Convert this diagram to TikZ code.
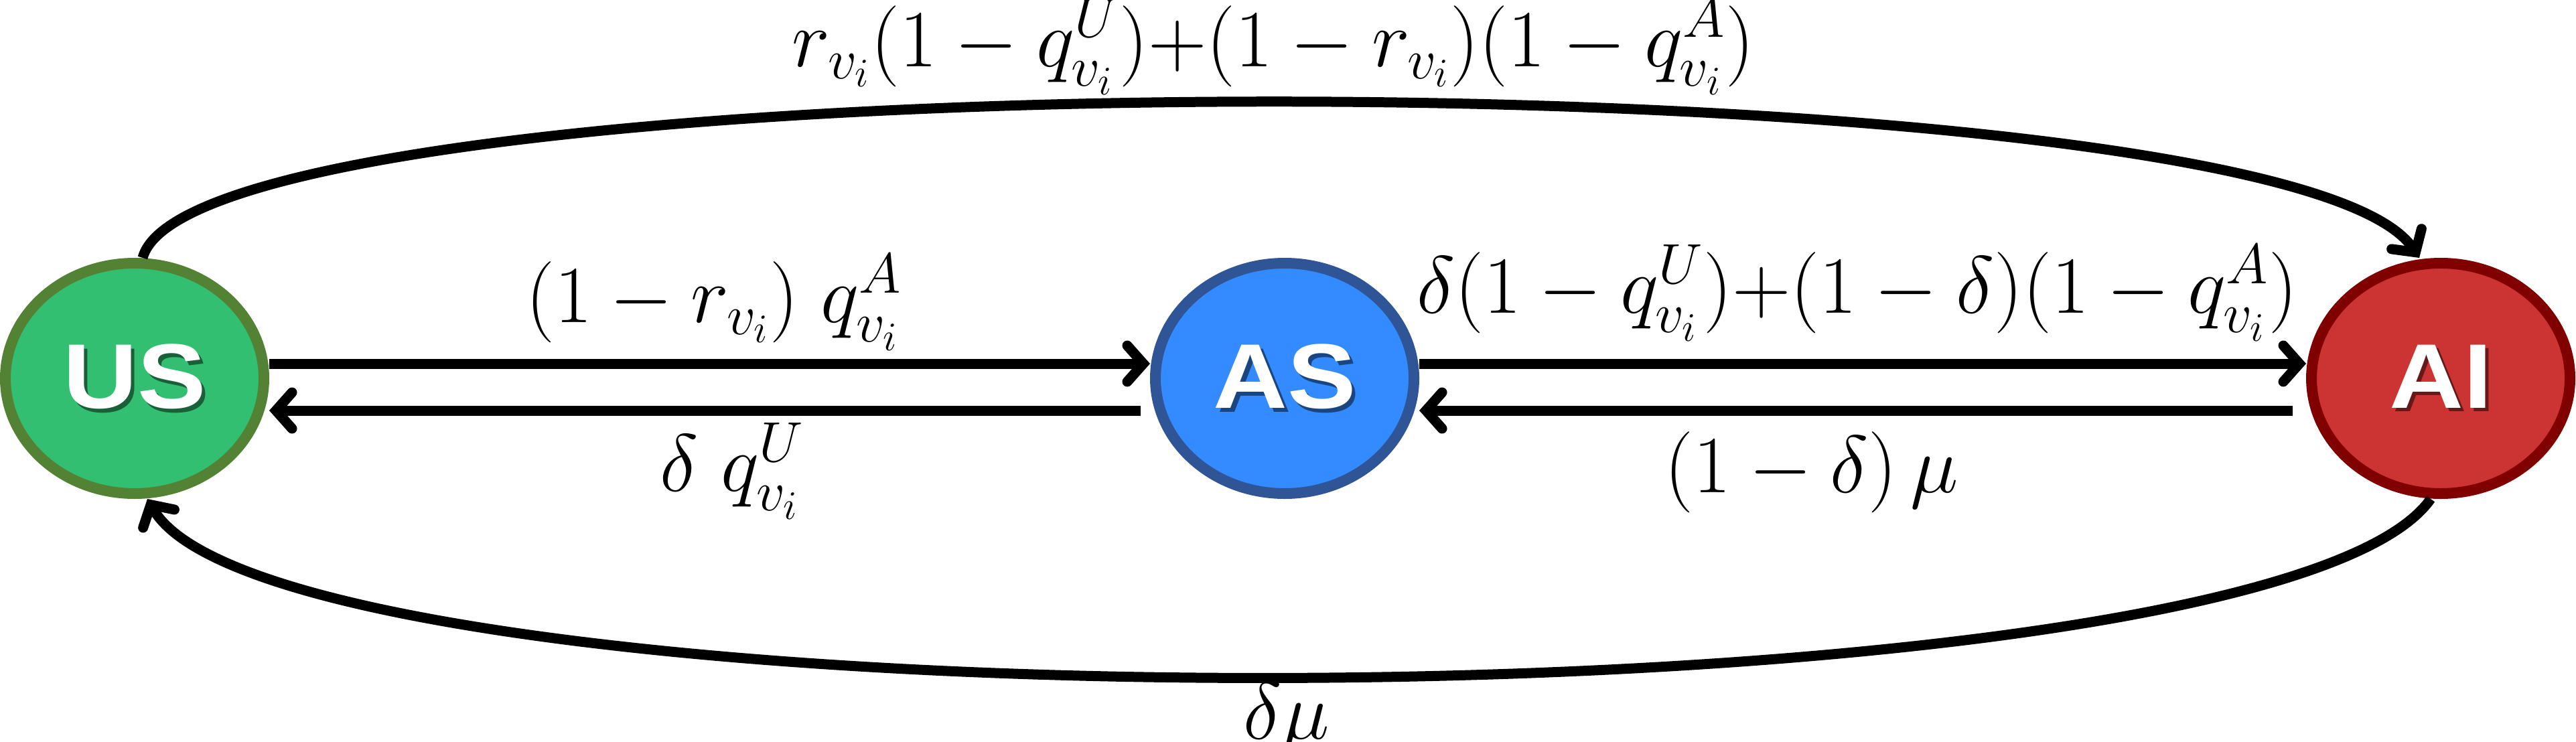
\documentclass[tikz,border=0pt]{standalone}
\usepackage{fix-cm}
\usepackage{fontspec}
\newfontfamily\statefont{Liberation Sans}[FakeStretch=1.12]
\usetikzlibrary{arrows.meta,shapes.geometric}

\definecolor{usfill}{HTML}{33BF72}
\definecolor{usline}{HTML}{548235}
\definecolor{asfill}{HTML}{338BFF}
\definecolor{asline}{HTML}{2F5597}
\definecolor{aifill}{HTML}{CC3333}
\definecolor{ailine}{HTML}{800000}

% white state name with a small dark drop shadow
\newcommand{\statename}[2]{\makebox[0pt][l]{\kern1.6pt\raisebox{-1.6pt}{\textcolor{#1}{#2}}}#2}

\begin{document}
\begin{tikzpicture}[
  state/.style={ellipse, line width=1.6mm, minimum width=38.6mm, minimum height=34.4mm,
    inner sep=0pt, text=white, font=\statefont\bfseries\fontsize{39}{40}\selectfont},
  flow/.style={line width=1.5mm, -{Straight Barb[length=2.4mm, width=5.4mm, line cap=round]}},
  rate/.style={inner sep=0pt, anchor=base, font=\fontsize{34.5}{40}\selectfont}]
  \useasboundingbox (0,0) rectangle (38.46,11.07);

  % states
  \node[state, draw=usline, fill=usfill] (US) at (2.01,5.42) {\statename{usfill!50!black}{US}};
  \node[state, draw=asline, fill=asfill] (AS) at (19.18,5.42) {\statename{asfill!50!black}{AS}};
  \node[state, draw=ailine, fill=aifill] (AI) at (36.44,5.42) {\statename{aifill!50!black}{AI}};

  % transitions between neighbours
  \draw[flow] ([yshift=2.2mm]US.east) -- ([yshift=2.2mm]AS.west);
  \draw[flow, shorten <=1.4mm] ([yshift=-4.8mm]AS.west) -- ([yshift=-4.8mm]US.east);
  \draw[flow] ([yshift=2.2mm]AS.east) -- ([yshift=2.2mm]AI.west);
  \draw[flow, shorten <=2mm] ([yshift=-4.8mm]AI.west) -- ([yshift=-4.8mm]AS.east);

  % long jumps
  \draw[flow] ([xshift=1.2mm]US.north) .. controls +(75:3.17) and +(124:3.75) .. ([xshift=-3.2mm]AI.north);
  \draw[flow] ([xshift=-1.5mm]AI.south) .. controls +(235:4.33) and +(-60:4.08) .. ([xshift=1.9mm]US.south);

  % rates
  \node[rate] (r-us-ai) at (19.01,10.08) {$r_{v_i}(1-q^U_{v_i})\mathord{+}(1-r_{v_i})(1-q^A_{v_i})$};
  \node[rate] (r-us-as) at (10.66,6.26) {$(1-r_{v_i})\;q^A_{v_i}$};
  \node[rate] (r-as-us) at (10.93,3.74) {$\delta\;q^U_{v_i}$};
  \node[rate] (r-as-ai) at (27.73,6.40) {$\delta(1-q^U_{v_i})\mathord{+}(1-\delta)(1-q^A_{v_i})$};
  \node[rate] (r-ai-as) at (27.05,3.72) {$(1-\delta)\,\mu$};
  \node[rate] (r-ai-us) at (19.21,0.04) {$\delta\mu$};
\end{tikzpicture}
\end{document}
